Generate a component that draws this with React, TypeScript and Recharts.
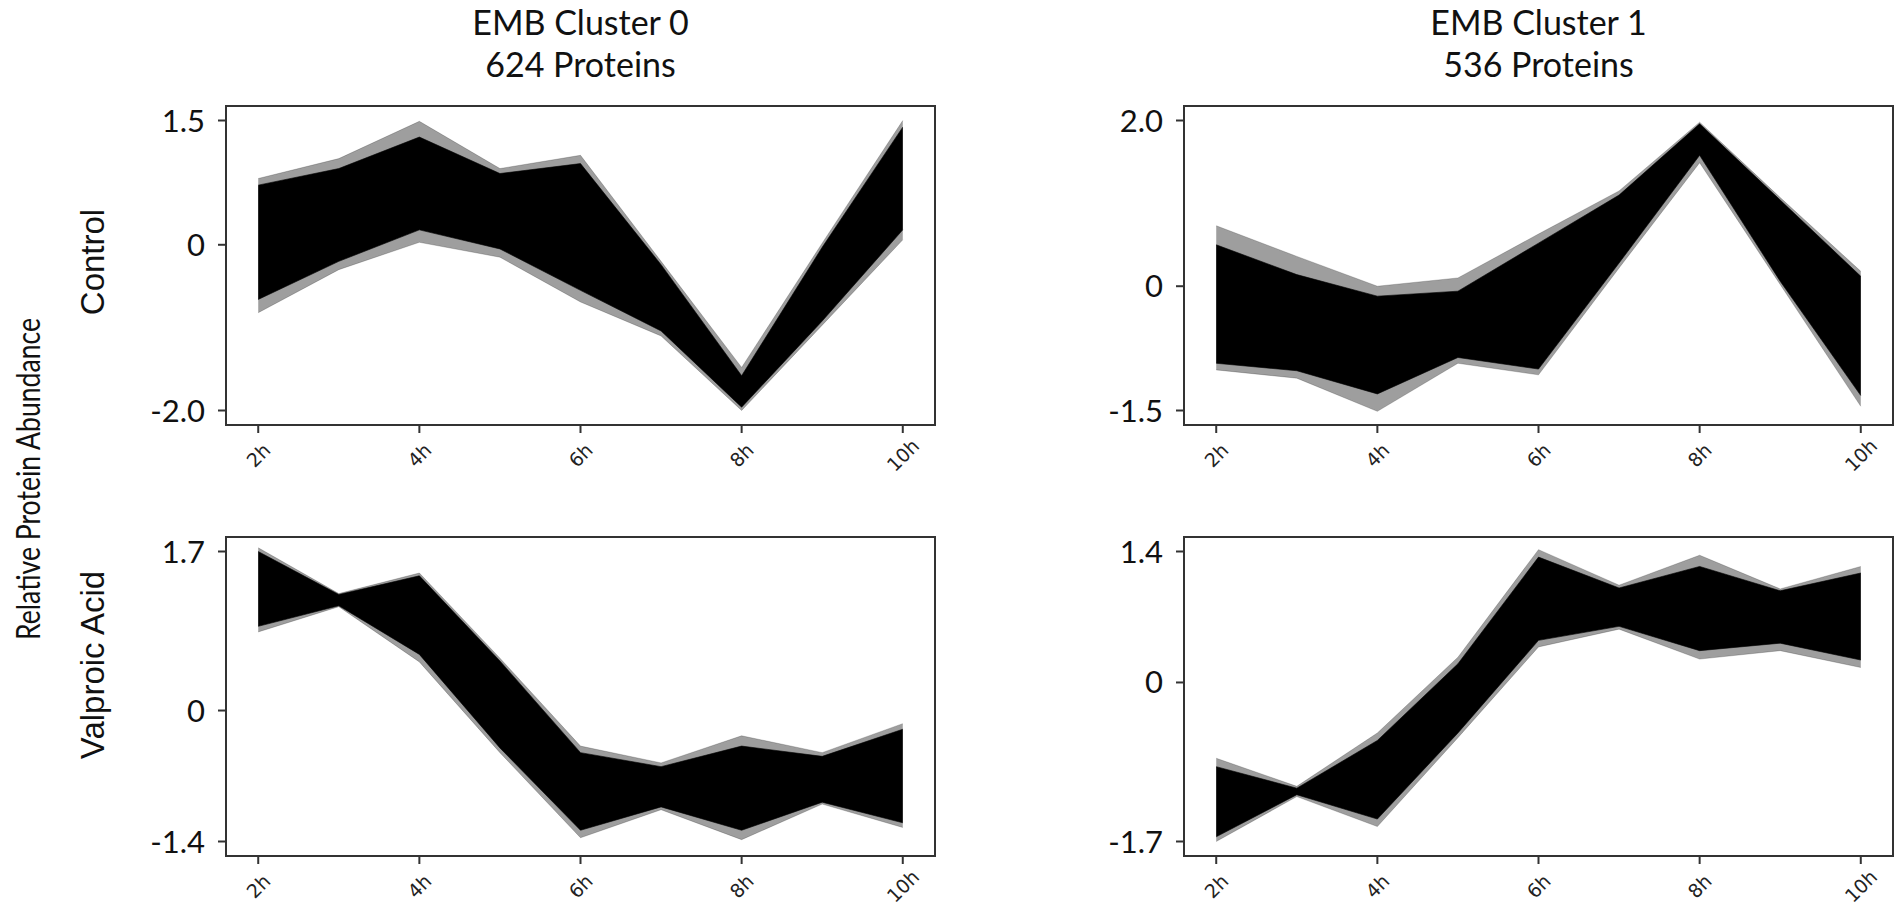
import { ComposedChart, Area, XAxis, YAxis, ReferenceArea } from "recharts";

const HOURS = [2, 3, 4, 5, 6, 7, 8, 9, 10];
const HOUR_TICKS = [2, 4, 6, 8, 10];

// Control, cluster 0: band extent read at each hour
const CTRL0_OUTER_LO = [-0.82, -0.3, 0.03, -0.15, -0.69, -1.1, -2.0, -0.97, 0.06];
const CTRL0_OUTER_HI = [0.8, 1.04, 1.49, 0.92, 1.08, -0.2, -1.48, 0.02, 1.5];
const CTRL0_CORE_LO = [-0.66, -0.2, 0.18, -0.05, -0.55, -1.04, -1.96, -0.92, 0.18];
const CTRL0_CORE_HI = [0.72, 0.92, 1.3, 0.86, 0.98, -0.24, -1.58, -0.03, 1.42];

// Control, cluster 1
const CTRL1_OUTER_LO = [-1.01, -1.11, -1.51, -0.93, -1.07, 0.22, 1.49, 0.02, -1.45];
const CTRL1_OUTER_HI = [0.73, 0.36, 0.0, 0.1, 0.63, 1.15, 1.98, 1.07, 0.18];
const CTRL1_CORE_LO = [-0.93, -1.02, -1.3, -0.86, -1.0, 0.28, 1.58, 0.06, -1.32];
const CTRL1_CORE_HI = [0.5, 0.14, -0.12, -0.06, 0.52, 1.1, 1.96, 1.04, 0.12];

// Valproic acid, cluster 0
const VPA0_OUTER_LO = [0.84, 1.11, 0.52, -0.45, -1.36, -1.06, -1.38, -1.0, -1.25];
const VPA0_OUTER_HI = [1.74, 1.25, 1.47, 0.56, -0.38, -0.56, -0.27, -0.45, -0.14];
const VPA0_CORE_LO = [0.9, 1.12, 0.6, -0.4, -1.28, -1.03, -1.28, -0.98, -1.2];
const VPA0_CORE_HI = [1.7, 1.24, 1.44, 0.53, -0.45, -0.6, -0.38, -0.49, -0.2];

// Valproic acid, cluster 1
const VPA1_OUTER_LO = [-1.7, -1.22, -1.54, -0.59, 0.38, 0.57, 0.25, 0.34, 0.16];
const VPA1_OUTER_HI = [-0.81, -1.11, -0.54, 0.27, 1.42, 1.04, 1.36, 1.0, 1.24];
const VPA1_CORE_LO = [-1.65, -1.2, -1.46, -0.54, 0.45, 0.6, 0.34, 0.42, 0.24];
const VPA1_CORE_HI = [-0.9, -1.13, -0.62, 0.2, 1.34, 1.01, 1.24, 0.98, 1.17];

const Y_TICKS_CTRL0 = [-2.0, 0, 1.5];
const Y_TICKS_CTRL1 = [-1.5, 0, 2.0];
const Y_TICKS_VPA0 = [-1.4, 0, 1.7];
const Y_TICKS_VPA1 = [-1.7, 0, 1.4];

const TITLES = ["EMB Cluster 0", "EMB Cluster 1"];
const SUBTITLES = ["624 Proteins", "536 Proteins"];

function buildRows(oLo: number[], oHi: number[], cLo: number[], cHi: number[]) {
  return HOURS.map((h, i) => ({
    hour: h,
    outer: [oLo[i], oHi[i]],
    core: [cLo[i], cHi[i]],
  }));
}

// matplotlib-style 5% padding around ticked extremes
function padDomain(ticks: number[]): [number, number] {
  const lo = ticks[0];
  const hi = ticks[ticks.length - 1];
  const pad = (hi - lo) * 0.05;
  return [lo - pad, hi + pad];
}

function HourTick(props: any) {
  const { x, y, payload } = props;
  return (
    <g transform={`translate(${x},${y + 20})`}>
      <text
        transform="rotate(-45)"
        textAnchor="middle"
        dominantBaseline="central"
        fontFamily="DejaVu Sans"
        fontSize={19}
        fill="#222"
      >
        {payload.value}h
      </text>
    </g>
  );
}

const Y_AXIS_W = 80;
const PLOT_W = 709;
const PLOT_H = 319;
const M_TOP = 10;
const M_RIGHT = 5;
const X_AXIS_H = 60;

function Panel({ left, top, rows, ticks }: { left: number; top: number; rows: any[]; ticks: number[] }) {
  const yDomain = padDomain(ticks);
  return (
    <div style={{ position: "absolute", left: left - Y_AXIS_W, top: top - M_TOP }}>
      <ComposedChart
        width={Y_AXIS_W + PLOT_W + M_RIGHT}
        height={M_TOP + PLOT_H + X_AXIS_H}
        data={rows}
        margin={{ top: M_TOP, right: M_RIGHT, left: 0, bottom: 0 }}
      >
        <XAxis
          dataKey="hour"
          type="number"
          domain={[1.6, 10.4]}
          ticks={HOUR_TICKS}
          tick={<HourTick />}
          tickSize={8}
          tickLine={{ stroke: "#333", strokeWidth: 2 }}
          axisLine={false}
          height={X_AXIS_H}
          allowDataOverflow
        />
        <YAxis
          type="number"
          domain={yDomain}
          ticks={ticks}
          tickFormatter={(v: number) => (v === 0 ? "0" : v.toFixed(1))}
          tick={{ fontFamily: "Lato", fontSize: 31, fill: "#111" }}
          tickSize={8}
          tickMargin={13}
          tickLine={{ stroke: "#333", strokeWidth: 2 }}
          axisLine={false}
          width={Y_AXIS_W}
          allowDataOverflow
        />
        <Area
          dataKey="outer"
          type="linear"
          stroke="#000"
          strokeOpacity={0.2}
          fill="#000"
          fillOpacity={0.38}
          isAnimationActive={false}
        />
        <Area
          dataKey="core"
          type="linear"
          stroke="#000"
          strokeOpacity={0.6}
          fill="#000"
          fillOpacity={1}
          isAnimationActive={false}
        />
        <ReferenceArea
          x1={1.6}
          x2={10.4}
          y1={yDomain[0]}
          y2={yDomain[1]}
          fill="none"
          stroke="#333"
          strokeWidth={2}
        />
      </ComposedChart>
    </div>
  );
}

export default function App() {
  const colLeft = [226, 1184];
  const rowTop = [106, 537];
  return (
    <div style={{ position: "relative", width: 1900, height: 917, background: "#fff" }}>
      <style>{`body{margin:0}`}</style>
      <svg width={1900} height={917} style={{ position: "absolute", left: 0, top: 0 }}>
        {TITLES.map((t, i) => (
          <g key={t}>
            <text x={colLeft[i] + PLOT_W / 2} y={35} textAnchor="middle" fontFamily="Lato" fontSize={34} fill="#111">
              {t}
            </text>
            <text x={colLeft[i] + PLOT_W / 2} y={77} textAnchor="middle" fontFamily="Lato" fontSize={34} fill="#111">
              {SUBTITLES[i]}
            </text>
          </g>
        ))}
        <text
          x={40}
          y={479}
          transform="rotate(-90 40 479)"
          textAnchor="middle"
          fontFamily="Lato"
          fontSize={32}
          textLength={322}
          lengthAdjust="spacingAndGlyphs"
          fill="#111"
        >
          Relative Protein Abundance
        </text>
        <text x={104} y={262} transform="rotate(-90 104 262)" textAnchor="middle" fontFamily="Liberation Sans" fontSize={33} fill="#111">
          Control
        </text>
        <text x={104} y={665} transform="rotate(-90 104 665)" textAnchor="middle" fontFamily="Liberation Sans" fontSize={33} fill="#111">
          Valproic Acid
        </text>
      </svg>
      <Panel left={colLeft[0]} top={rowTop[0]} rows={buildRows(CTRL0_OUTER_LO, CTRL0_OUTER_HI, CTRL0_CORE_LO, CTRL0_CORE_HI)} ticks={Y_TICKS_CTRL0} />
      <Panel left={colLeft[1]} top={rowTop[0]} rows={buildRows(CTRL1_OUTER_LO, CTRL1_OUTER_HI, CTRL1_CORE_LO, CTRL1_CORE_HI)} ticks={Y_TICKS_CTRL1} />
      <Panel left={colLeft[0]} top={rowTop[1]} rows={buildRows(VPA0_OUTER_LO, VPA0_OUTER_HI, VPA0_CORE_LO, VPA0_CORE_HI)} ticks={Y_TICKS_VPA0} />
      <Panel left={colLeft[1]} top={rowTop[1]} rows={buildRows(VPA1_OUTER_LO, VPA1_OUTER_HI, VPA1_CORE_LO, VPA1_CORE_HI)} ticks={Y_TICKS_VPA1} />
    </div>
  );
}
